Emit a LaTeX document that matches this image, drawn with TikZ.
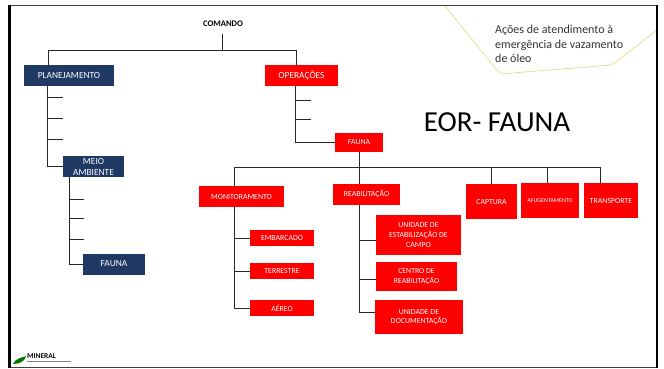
\documentclass[tikz,border=0pt]{standalone}
\usepackage{fontspec}
\setmainfont{Carlito}
\definecolor{navy}{HTML}{1F3864}
\definecolor{sand}{HTML}{E8DC8C}
\tikzset{
  bluebox/.style={fill=navy,text=white,align=center,inner sep=0,outer sep=0,font=\fontsize{9.4}{11}\selectfont},
  redbox/.style={fill=red,text=white,align=center,inner sep=0,outer sep=0,font=\fontsize{7.8}{9.6}\selectfont},
  link/.style={draw=black!85,line width=0.8pt},
}
\begin{document}
\begin{tikzpicture}[x=1pt,y=-1pt]
    \useasboundingbox (0,0) rectangle (664,369);
    \fill[white] (0,0) rectangle (664,369);
    \draw[sand,line width=0.7pt,rounded corners=5pt] (445,6)--(500,74)--(612,65)--(657,30);
    \draw[black!75,line width=1.2pt] (9,5.5)--(657,5.5);
    \draw[black!75,line width=1.2pt] (9,367.5)--(657,367.5);
    \draw[black,line width=2.2pt] (9.5,5)--(9.5,368);
    \draw[black,line width=2pt] (657,5)--(657,368);

    \node(cmd)[font=\fontsize{8.6}{10}\selectfont\bfseries] at (223,24) {COMANDO};
    \node(plan)[bluebox,minimum width=90,minimum height=21] at (69,75.5) {PLANEJAMENTO};
    \node(oper)[redbox,font=\fontsize{9.4}{11}\selectfont,minimum width=73,minimum height=21] at (301.5,75.5) {OPERAÇÕES};
    \node(meio)[bluebox,minimum width=61,minimum height=21] at (93.5,166.5) {MEIO\\AMBIENTE};
    \node(fblue)[bluebox,minimum width=62,minimum height=21] at (114,264) {FAUNA};
    \node(fred)[redbox,minimum width=48,minimum height=19] at (359,142.5) {FAUNA};
    \node(mon)[redbox,minimum width=85,minimum height=21] at (241.5,196.5) {MONITORAMENTO};
    \node(emb)[redbox,minimum width=64,minimum height=16] at (282,238) {EMBARCADO};
    \node(ter)[redbox,minimum width=64,minimum height=16] at (282,271) {TERRESTRE};
    \node(aer)[redbox,minimum width=64,minimum height=16] at (282,308) {AÉREO};
    \node(rea)[redbox,minimum width=67,minimum height=21] at (366.5,194.5) {REABILITAÇÃO};
    \node(uni)[redbox,minimum width=85,minimum height=40] at (418.5,235) {UNIDADE DE\\ESTABILIZAÇÃO DE\\CAMPO};
    \node(cen)[redbox,minimum width=81,minimum height=29] at (416.5,276.5) {CENTRO DE\\REABILITAÇÃO};
    \node(doc)[redbox,minimum width=88,minimum height=34] at (419,317) {UNIDADE DE\\DOCUMENTAÇÃO};
    \node(cap)[redbox,minimum width=51,minimum height=35] at (491.5,201.5) {CAPTURA};
    \node(afu)[redbox,font=\fontsize{6}{7}\selectfont,minimum width=58,minimum height=35] at (550,200.5) {AFUGENTAMENTO};
    \node(tra)[redbox,minimum width=54,minimum height=35] at (611,200.5) {TRANSPORTE};
    \node(eor)[font=\fontsize{29}{32}\selectfont] at (497,122) {EOR- FAUNA};
    \node(acoes)[anchor=north west,align=left,inner sep=0,text=black!80,font=\fontsize{12}{14.7}\selectfont] at (495,25) {Ações de atendimento à\\emergência de vazamento\\de óleo};

    % comando
    \coordinate(c0) at (222.5,34);
    \coordinate(c1) at (222.5,50);
    \draw[link] (c0)--(c1);
    \draw[link] (c1)-|([xshift=-21]plan.north);
    \draw[link] (c1)-|([xshift=-5.5]oper.north);

    % planejamento
    \coordinate(p0) at (47.5,86);
    \foreach \y in {97,118,139.5}
        \draw[link] (47.5,\y)--(63,\y);
    \draw[link] (p0)|-(meio.west);

    % meio ambiente
    \coordinate(m0) at (69,177);
    \foreach \y in {199.5,218,239}
        \draw[link] (69,\y)--(84,\y);
    \draw[link] (m0)|-(fblue.west);

    % operacoes
    \coordinate(o0) at (295,86);
    \foreach \y in {100,119}
        \draw[link] (295,\y)--(311,\y);
    \draw[link] (o0)|-(fred.west);

    % fauna
    \coordinate(f0) at (359,167.5);
    \draw[link] (fred.south)--(f0);
    \draw[link] (f0)-|([xshift=-7.5]mon.north);
    \draw[link] (f0)--([xshift=-7.5]rea.north);
    \draw[link] (f0)-|(cap.north);
    \draw[link] (f0)-|([xshift=-3]afu.north);
    \draw[link] (f0)-|([xshift=-11]tra.north);

    % monitoramento
    \coordinate(n0) at (234,207);
    \draw[link] (n0)|-(emb.west);
    \draw[link] (n0)|-(ter.west);
    \draw[link] (n0)|-(aer.west);

    % reabilitacao
    \coordinate(r0) at (359.5,205);
    \draw[link] (r0)|-([yshift=-5]uni.west);
    \draw[link] (r0)|-([yshift=-2.5]cen.west);
    \draw[link] (r0)|-([yshift=4.5]doc.west);

    % logo
    \fill[green!45!black] (13,364)..controls (16,358) and (21,358) .. (26,356)..controls (25,361) and (20,364) .. (13,364);
    \draw[black!15] (14,358)..controls (17,353) and (23,352) .. (26,355);
    \node(logo)[anchor=west,inner sep=0,font=\fontsize{7.4}{8}\selectfont\bfseries] at (27,356.5) {MINERAL};
    \draw[black!50,line width=0.9pt] (27,361.5)--(71,361.5);
\end{tikzpicture}
\end{document}
